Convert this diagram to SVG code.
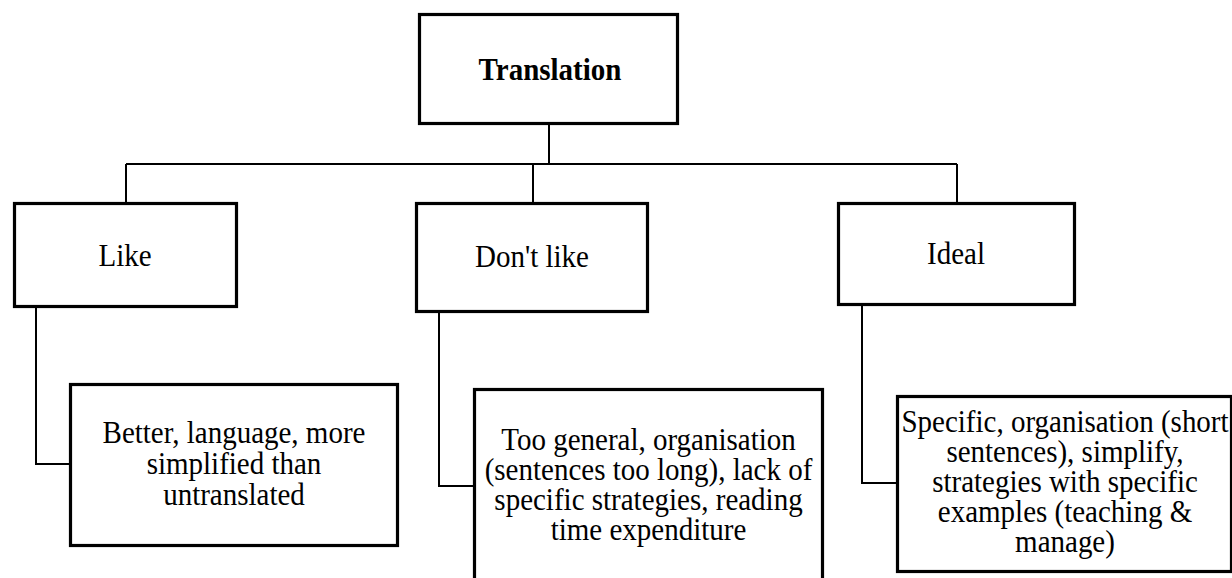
<svg xmlns="http://www.w3.org/2000/svg" width="1232" height="578" viewBox="0 0 1232 578">
  <style>
    .box { fill: #fff; stroke: #000; stroke-width: 3.2; }
    .wire { fill: none; stroke: #000; stroke-width: 2; }
    text { font-family: "Liberation Serif", "Times New Roman", serif; font-size: 29px; fill: #000; text-anchor: middle; }
    .title { font-weight: bold; }
  </style>
  <rect width="1232" height="578" fill="#fff"/>

  <g id="connectors">
    <path class="wire" d="M549 125 V164"/>
    <path class="wire" d="M126 164 H957"/>
    <path class="wire" d="M126 164 V202"/>
    <path class="wire" d="M533 164 V202"/>
    <path class="wire" d="M957 164 V202"/>
    <path class="wire" d="M36 308 V464 H70"/>
    <path class="wire" d="M439 313 V486 H474"/>
    <path class="wire" d="M862 306 V483 H897"/>
  </g>

  <!-- text is drawn slightly tall: matrix(1 0 0 1.08 x baseline) -->
  <g id="translation">
    <rect class="box" x="419.5" y="14.5" width="258" height="109"/>
    <text class="title" transform="matrix(1 0 0 1.08 550 80)">Translation</text>
  </g>

  <g id="like">
    <rect class="box" x="14.5" y="203.5" width="222" height="103"/>
    <text transform="matrix(1 0 0 1.08 125 266)">Like</text>
  </g>

  <g id="dont-like">
    <rect class="box" x="416.5" y="203.5" width="231" height="108"/>
    <text transform="matrix(1 0 0 1.08 532 267)">Don't like</text>
  </g>

  <g id="ideal">
    <rect class="box" x="838.5" y="203.5" width="236" height="101"/>
    <text transform="matrix(1 0 0 1.08 956 264)">Ideal</text>
  </g>

  <g id="like-detail">
    <rect class="box" x="70.5" y="384.5" width="327" height="161"/>
    <text transform="matrix(1 0 0 1.08 234 443)">Better, language, more</text>
    <text transform="matrix(1 0 0 1.08 234 474)">simplified than</text>
    <text transform="matrix(1 0 0 1.08 234 505)">untranslated</text>
  </g>

  <g id="dont-like-detail">
    <rect class="box" x="474.5" y="389.5" width="348" height="200"/>
    <text transform="matrix(1 0 0 1.08 648.5 450)">Too general, organisation</text>
    <text transform="matrix(1 0 0 1.08 648.5 480)">(sentences too long), lack of</text>
    <text transform="matrix(1 0 0 1.08 648.5 510)">specific strategies, reading</text>
    <text transform="matrix(1 0 0 1.08 648.5 540)">time expenditure</text>
  </g>

  <g id="ideal-detail">
    <rect class="box" x="897.5" y="396.5" width="334" height="175"/>
    <text transform="matrix(1 0 0 1.08 1065 432)">Specific, organisation (short</text>
    <text transform="matrix(1 0 0 1.08 1065 462)">sentences), simplify,</text>
    <text transform="matrix(1 0 0 1.08 1065 492)">strategies with specific</text>
    <text transform="matrix(1 0 0 1.08 1065 522)">examples (teaching &amp;</text>
    <text transform="matrix(1 0 0 1.08 1065 552)">manage)</text>
  </g>
</svg>
